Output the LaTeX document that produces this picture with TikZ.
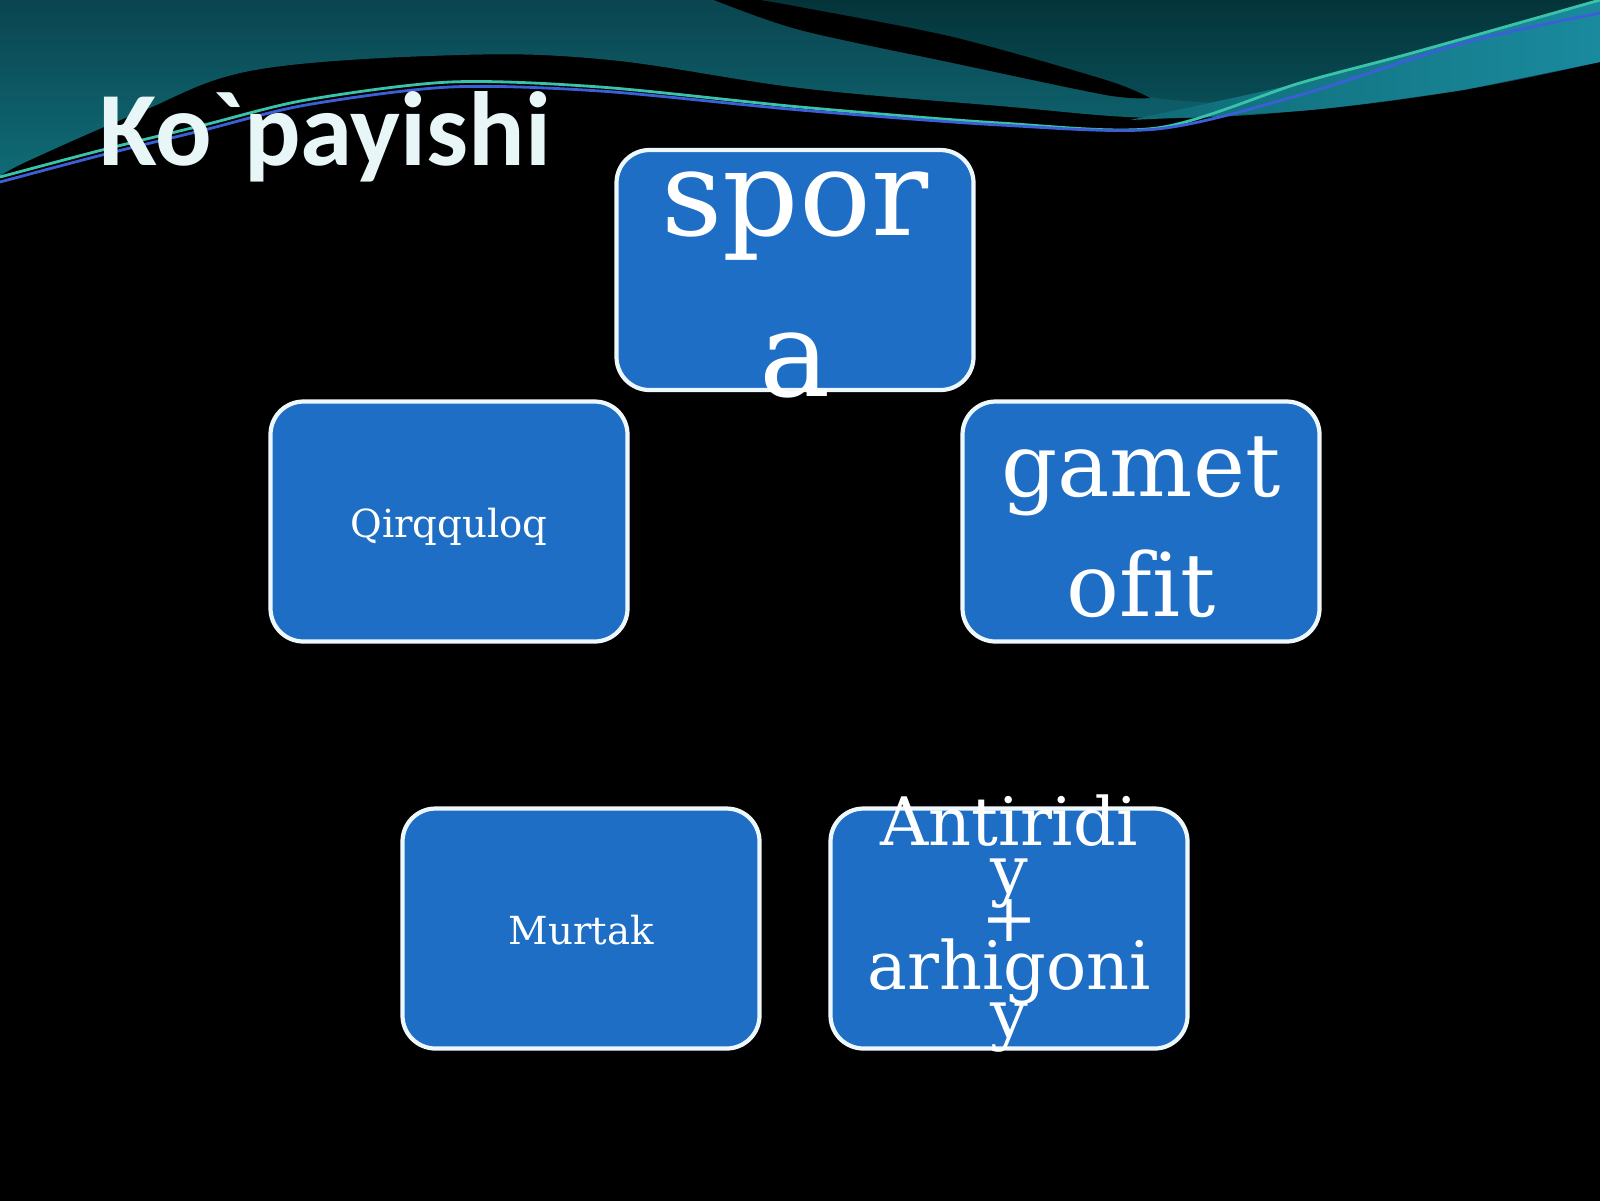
\documentclass[tikz,border=0pt]{standalone}
\usepackage{fontspec}
\setmainfont{DejaVu Serif}[Ligatures=NoCommon]
\newfontfamily\sarlavhashrift{Carlito}

\definecolor{blokrang}{HTML}{1D6EC4}
\definecolor{chegara}{HTML}{EEF7FB}
\definecolor{tepa}{HTML}{0A4550}
\definecolor{past}{HTML}{0F6B76}
\definecolor{qora}{HTML}{04343A}
\definecolor{tasma}{HTML}{1A8A9E}
\definecolor{yashil}{HTML}{39C3A8}
\definecolor{kok}{HTML}{3B5FD6}
\definecolor{sarlavharang}{HTML}{E8F6F8}

% shrift: o'lcham va qatorlar oralig'i
\newcommand{\shrift}[2]{\fontsize{#1}{#2}\selectfont\lineskiplimit=-\maxdimen}
\newcommand{\qator}{\rule[-1em]{0pt}{2em}}

\begin{document}
\begin{tikzpicture}[
  blok/.style={draw=chegara, line width=1.2pt, fill=blokrang, rounded corners=0.33cm,
    minimum width=3.57cm, minimum height=2.40cm, inner sep=0pt},
  yozuv/.style={text=white, text width=6cm, align=center, inner sep=0pt}
  ]
  \useasboundingbox (0,0) rectangle (16,-12);
  \fill[black] (-0.2,0.2) rectangle (16.2,-12.2);

  % yuqoridagi to'lqin
  \shade[top color=tepa, bottom color=past] (0,0) -- (16,0) -- plot[smooth, tension=0.6] coordinates {(16,-0.62) (14.63,-0.90) (13.1,-1.10) (11.57,-1.18) (10,-1.06) (8,-0.88) (6.1,-0.60) (4.6,-0.55) (2.55,-0.70) (1.4,-1.12) (0.3,-1.60) (0,-1.76)} -- cycle;
  \shade[top color=qora, bottom color=qora!55!past] (7.6,0) -- plot[smooth] coordinates {(7.6,0) (8,-0.07) (9.53,-0.37) (11.06,-0.80) (11.5,-0.97) (12.4,-1.02) (13.4,-0.82) (14.5,-0.47) (16,-0.05)} -- (16,0) -- cycle;
  \shade[left color=past, right color=tasma] plot[smooth] coordinates {(11.3,-1.20) (13,-0.83) (14.12,-0.53) (16,0)} -- (16,-0.62) -- plot[smooth] coordinates {(14.63,-0.90) (13.1,-1.10) (11.3,-1.20)} -- cycle;
  \fill[black] plot[smooth] coordinates {(7.14,0) (8,-0.30) (9.53,-0.63) (11.06,-0.95) (11.5,-0.98)} -- plot[smooth] coordinates {(11.5,-0.98) (11.06,-0.80) (9.53,-0.37) (8,-0.07) (7.6,0)} -- cycle;
  \draw[yashil, line width=0.8pt] plot[smooth] coordinates {(0,-1.77) (1.02,-1.50) (2.04,-1.25) (3.06,-1.00) (4.5,-0.82) (6,-0.87) (8,-1.07) (10,-1.23) (11.57,-1.28) (13,-0.83) (14.12,-0.53) (16,0)};
  \draw[kok, line width=0.8pt] plot[smooth] coordinates {(0,-1.82) (1.02,-1.55) (2.04,-1.30) (3.06,-1.05) (4.5,-0.87) (6,-0.91) (8,-1.10) (10,-1.25) (11.57,-1.29) (13,-0.95) (14.63,-0.43) (16,-0.13)};

  \node[anchor=base west, inner sep=0pt, text=sarlavharang, font=\sarlavhashrift\bfseries\fontsize{30}{36}\selectfont] (sarlavha) at (0.99,-1.65) {Ko\symbol{96}payishi};

  % bloklar
  \node[blok] (spora) at (7.95,-2.70) {};
  \node[blok] (qirq) at (4.49,-5.215) {};
  \node[blok] (gamet) at (11.41,-5.215) {};
  \node[blok] (murtak) at (5.81,-9.285) {};
  \node[blok] (antir) at (10.09,-9.285) {};

  \node[yozuv, font=\shrift{34}{46}] (spora-t) at ([yshift=-4.6mm]spora.center) {\qator spor\\\qator a};
  \node[yozuv, font=\shrift{11}{13}] (qirq-t) at ([yshift=-1.55mm]qirq.center) {\qator Qirqquloq};
  \node[yozuv, font=\shrift{25}{34.4}] (gamet-t) at ([yshift=-3.5mm]gamet.center) {\qator gamet\\\qator ofit};
  \node[yozuv, font=\shrift{11}{13}] (murtak-t) at ([yshift=-1.55mm]murtak.center) {\qator Murtak};
  \node[yozuv, font=\shrift{19}{13.7}] (antir-t) at ([yshift=-1.3mm]antir.center) {\qator Antiridi\\\qator y\\\qator +\\\qator arhigoni\\\qator y};
\end{tikzpicture}
\end{document}
